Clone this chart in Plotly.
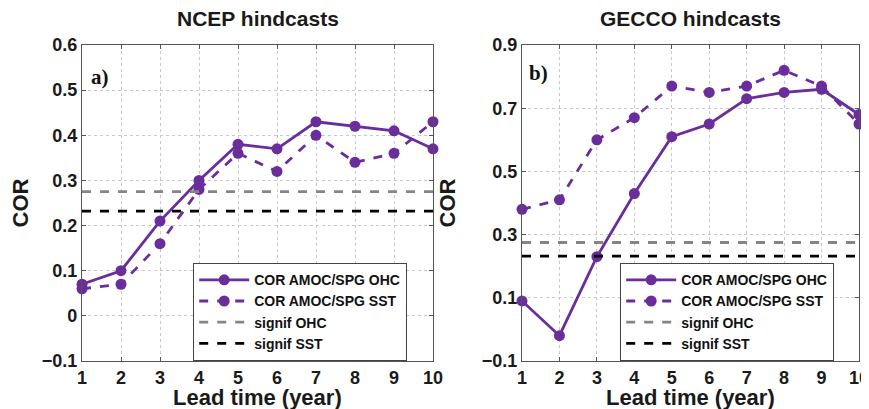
import plotly.graph_objects as go

lead = [1, 2, 3, 4, 5, 6, 7, 8, 9, 10]
ncep_ohc = [0.07, 0.10, 0.21, 0.30, 0.38, 0.37, 0.43, 0.42, 0.41, 0.37]
ncep_sst = [0.06, 0.07, 0.16, 0.28, 0.36, 0.32, 0.40, 0.34, 0.36, 0.43]
gecco_ohc = [0.09, -0.02, 0.23, 0.43, 0.61, 0.65, 0.73, 0.75, 0.76, 0.68]
gecco_sst = [0.38, 0.41, 0.60, 0.67, 0.77, 0.75, 0.77, 0.82, 0.77, 0.65]
signif_ohc = 0.275
signif_sst = 0.232
titles = ["NCEP hindcasts", "GECCO hindcasts"]
panel_labels = ["a)", "b)"]
left_ticks = [-0.1, 0, 0.1, 0.2, 0.3, 0.4, 0.5, 0.6]
left_ticktext = ["\u22120.1", "0", "0.1", "0.2", "0.3", "0.4", "0.5", "0.6"]
right_ticks = [-0.1, 0.1, 0.3, 0.5, 0.7, 0.9]
right_ticktext = ["\u22120.1", "0.1", "0.3", "0.5", "0.7", "0.9"]

PURPLE = "#6a2d9c"
FONT = "Liberation Sans, Arial, sans-serif"
TXT = "#1a1a1a"

# page has an 8px body margin; size the figure so it fits the 869x409 window
OFF = 8
W, H = 869 - OFF, 409 - OFF


def px(x):
    return (x - OFF) / W


def py(y):
    return 1 - (y - OFF) / H


fig = go.Figure()

panels = [
    (ncep_ohc, ncep_sst, "x", "y", "legend"),
    (gecco_ohc, gecco_sst, "x2", "y2", "legend2"),
]
for ohc, sst, xa, ya, lg in panels:
    fig.add_trace(go.Scatter(x=lead, y=ohc, mode="lines+markers", name="COR AMOC/SPG OHC",
                             line=dict(color=PURPLE, width=2.8), marker=dict(size=11, color=PURPLE),
                             xaxis=xa, yaxis=ya, legend=lg, cliponaxis=False))
    fig.add_trace(go.Scatter(x=lead, y=sst, mode="lines+markers", name="COR AMOC/SPG SST",
                             line=dict(color=PURPLE, width=2.8, dash="dash"), marker=dict(size=11, color=PURPLE),
                             xaxis=xa, yaxis=ya, legend=lg, cliponaxis=False))
    fig.add_trace(go.Scatter(x=[lead[0], lead[-1]], y=[signif_ohc, signif_ohc], mode="lines", name="signif OHC",
                             line=dict(color="#858585", width=2.8, dash="dash"),
                             xaxis=xa, yaxis=ya, legend=lg))
    fig.add_trace(go.Scatter(x=[lead[0], lead[-1]], y=[signif_sst, signif_sst], mode="lines", name="signif SST",
                             line=dict(color="black", width=2.8, dash="dash"),
                             xaxis=xa, yaxis=ya, legend=lg))

axis_common = dict(showline=True, linecolor="#555", linewidth=1.2, mirror="ticks", ticks="inside",
                   ticklen=4, tickcolor="#555", showgrid=True, gridcolor="#c8c8c8", griddash="dot",
                   gridwidth=1, zeroline=False, automargin=False, ticklabeloverflow="allow",
                   tickfont=dict(family=FONT, size=18, color=TXT, weight="bold"))
title_font = dict(family=FONT, size=22, color=TXT, weight="bold")
ydom = [py(361), py(45)]
xdom1 = [px(82), px(433)]
xdom2 = [px(522), px(859)]
legend_common = dict(xanchor="left", yanchor="top", bordercolor="#444", borderwidth=1.2,
                     bgcolor="white", font=dict(family=FONT, size=14, color="#111", weight="bold"),
                     tracegroupgap=0, itemwidth=50)

fig.update_layout(
    width=W, height=H, margin=dict(l=0, r=0, t=0, b=0, autoexpand=False),
    paper_bgcolor="white", plot_bgcolor="white",
    xaxis=dict(domain=xdom1, range=[1, 10], tickvals=lead, anchor="y", **axis_common),
    yaxis=dict(domain=ydom, range=[-0.1, 0.6], tickvals=left_ticks, ticktext=left_ticktext, anchor="x",
               title=dict(text="COR", font=title_font, standoff=20), **axis_common),
    xaxis2=dict(domain=xdom2, range=[1, 10], tickvals=lead, anchor="y2", **axis_common),
    yaxis2=dict(domain=ydom, range=[-0.1, 0.9], tickvals=right_ticks, ticktext=right_ticktext, anchor="x2",
                title=dict(text="COR", font=title_font, standoff=20), **axis_common),
    legend=dict(x=px(193), y=py(263), **legend_common),
    legend2=dict(x=px(620), y=py(263), **legend_common),
    showlegend=True,
)

for t, dom in [(titles[0], xdom1), (titles[1], xdom2)]:
    xc = (dom[0] + dom[1]) / 2
    fig.add_annotation(text=t, x=xc, y=py(18), xref="paper", yref="paper", showarrow=False,
                       font=dict(family=FONT, size=21, color=TXT, weight="bold"), xanchor="center", yanchor="middle")
    fig.add_annotation(text="Lead time (year)", x=xc, y=0, xref="paper", yref="paper", showarrow=False,
                       font=title_font, xanchor="center", yanchor="bottom", yshift=-3)

serif = dict(family="Liberation Serif, Times New Roman, serif", size=21, color="#111", weight="bold")
fig.add_annotation(text=panel_labels[0], x=1.45, y=0.53, xref="x", yref="y", showarrow=False, font=serif)
fig.add_annotation(text=panel_labels[1], x=1.45, y=0.81, xref="x2", yref="y2", showarrow=False, font=serif)

fig.write_html("out.html")
